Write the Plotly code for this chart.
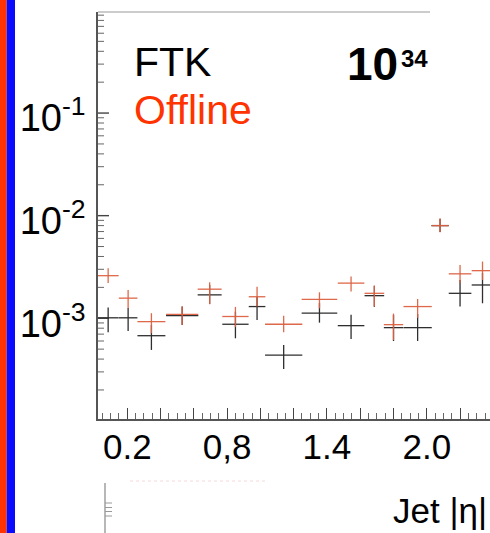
import plotly.graph_objects as go

# Jet |eta| bins: centre and half width
eta_center = [0.085, 0.205, 0.345, 0.53, 0.695, 0.85, 0.98, 1.14, 1.355, 1.545,
              1.685, 1.80, 1.945, 2.08, 2.20, 2.335]
eta_halfwidth = [0.063, 0.056, 0.084, 0.097, 0.072, 0.079, 0.050, 0.112, 0.107, 0.080,
                 0.059, 0.058, 0.085, 0.052, 0.068, 0.065]

# Offline: value with lower / upper error-bar ends
offline_val = [2.60e-3, 1.57e-3, 9.27e-4, 1.09e-3, 1.92e-3, 1.04e-3, 1.62e-3, 8.74e-4,
               1.53e-3, 2.20e-3, 1.75e-3, 8.66e-4, 1.30e-3, 8.0e-3, 2.71e-3, 2.91e-3]
offline_lo = [2.20e-3, 1.25e-3, 7.14e-4, 8.60e-4, 1.37e-3, 8.2e-4, 1.30e-3, 7.30e-4,
              1.25e-3, 1.82e-3, 1.30e-3, 6.14e-4, 1.01e-3, 6.90e-3, 2.21e-3, 2.36e-3]
offline_hi = [3.07e-3, 1.89e-3, 1.12e-3, 1.30e-3, 2.24e-3, 1.29e-3, 2.03e-3, 1.06e-3,
              1.79e-3, 2.55e-3, 2.08e-3, 1.11e-3, 1.54e-3, 9.45e-3, 3.31e-3, 3.57e-3]

# FTK: value with lower / upper error-bar ends
ftk_val = [1.01e-3, 1.01e-3, 6.76e-4, 1.06e-3, 1.69e-3, 8.74e-4, 1.30e-3, 4.38e-4,
           1.12e-3, 8.47e-4, 1.66e-3, 8.10e-4, 8.10e-4, 8.0e-3, 1.75e-3, 2.11e-3]
ftk_lo = [7.30e-4, 7.52e-4, 4.91e-4, 8.60e-4, 1.38e-3, 6.38e-4, 9.63e-4, 3.20e-4,
          9.06e-4, 6.28e-4, 1.29e-3, 6.00e-4, 6.00e-4, 6.93e-3, 1.30e-3, 1.40e-3]
ftk_hi = [1.27e-3, 1.26e-3, 8.60e-4, 1.30e-3, 2.11e-3, 1.16e-3, 1.61e-3, 5.49e-4,
          1.41e-3, 1.08e-3, 2.07e-3, 1.08e-3, 1.10e-3, 9.3e-3, 2.36e-3, 2.77e-3]

# axis ticks and labels
x_major = [0.2, 0.4, 0.6, 0.8, 1.0, 1.2, 1.4, 1.6, 1.8, 2.0, 2.2]
x_labelvals = [0.2, 0.8, 1.4, 2.0]
x_labeltext = ["0.2", "0,8", "1.4", "2.0"]
y_tickvals = [1e-3, 1e-2, 1e-1]
y_ticktext = ["10<sup>-3</sup>", "10<sup>-2</sup>", "10<sup>-1</sup>"]

X_RANGE = [0.024, 2.38]
Y_RANGE = [-3.982, -0.015]

W, H = 490, 533
L, R, T, B = 98, 0, 12, 114
PLOT_W = W - L - R
FONT = "Liberation Sans, Arial, sans-serif"


def px_x(p):
    return (p - L) / PLOT_W


def px_y(p):
    return (H - B - p) / (H - T - B)


def cross_trace(val, lo, hi, color, name, xa):
    return go.Scatter(
        x=eta_center, y=val, mode="markers", name=name, xaxis=xa, yaxis="y",
        marker=dict(size=2, color=color, opacity=0),
        error_x=dict(type="data", array=eta_halfwidth, width=0,
                     thickness=1.3, color=color),
        error_y=dict(type="data", array=[h - v for h, v in zip(hi, val)],
                     arrayminus=[v - l for v, l in zip(val, lo)],
                     width=0, thickness=1.3, color=color),
        showlegend=False, hoverinfo="skip",
    )


def y_tick_trace(vals, length_px, color, width):
    # short inward tick segments along the left edge of the log y axis
    x0 = X_RANGE[0]
    x1 = X_RANGE[0] + length_px / PLOT_W * (X_RANGE[1] - X_RANGE[0])
    xs, ys = [], []
    for v in vals:
        xs += [x0, x1, None]
        ys += [v, v, None]
    return go.Scatter(x=xs, y=ys, mode="lines", xaxis="x", yaxis="y",
                      line=dict(color=color, width=width), cliponaxis=False,
                      showlegend=False, hoverinfo="skip")


minor_x = [round(0.05 * i, 2) for i in range(0, 48)]
minor_y = [m * 10 ** e for e in range(-4, 0) for m in range(2, 10)]

fig = go.Figure()
fig.add_trace(y_tick_trace(minor_y, 6, "#666", 1))
fig.add_trace(y_tick_trace(y_tickvals, 11, "#444", 1.4))
fig.add_trace(cross_trace(ftk_val, ftk_lo, ftk_hi, "#2e2e2e", "FTK", "x"))
fig.add_trace(cross_trace(offline_val, offline_lo, offline_hi,
                          "rgba(220,96,64,0.95)", "Offline", "x2"))
# empty trace carrying the x tick-label axis
fig.add_trace(go.Scatter(x=[], y=[], xaxis="x3", yaxis="y", showlegend=False))

common = dict(showgrid=False, zeroline=False, automargin=False)

fig.update_layout(
    width=W, height=H,
    margin=dict(l=L, r=R, t=T, b=B),
    paper_bgcolor="white", plot_bgcolor="white",
    font=dict(family=FONT, color="black"),
    # base x axis: line + minor ticks
    xaxis=dict(
        range=X_RANGE, **common,
        showline=True, linecolor="#555", linewidth=1.5,
        tickmode="array", tickvals=minor_x, showticklabels=False,
        ticks="inside", ticklen=6, tickwidth=1, tickcolor="#666",
    ),
    # major x ticks every 0.2
    xaxis2=dict(
        range=X_RANGE, **common, overlaying="x", anchor="y", side="bottom",
        showline=False, showticklabels=False,
        tickmode="array", tickvals=x_major,
        ticks="inside", ticklen=11, tickwidth=1.4, tickcolor="#444",
    ),
    # x tick labels
    xaxis3=dict(
        range=X_RANGE, **common, overlaying="x", anchor="y", side="bottom",
        showline=False, ticks="", ticklabelstandoff=4,
        tickmode="array", tickvals=x_labelvals, ticktext=x_labeltext,
        tickfont=dict(size=35, family=FONT, color="black"),
    ),
    # log y axis: line and decade labels
    yaxis=dict(
        type="log", range=Y_RANGE, **common,
        showline=True, linecolor="#555", linewidth=1.5,
        tickmode="array", tickvals=y_tickvals, ticktext=y_ticktext,
        ticks="", ticklabelstandoff=3, ticklabelshift=5,
        tickfont=dict(size=38, family=FONT, color="black"),
    ),
)

shapes = [
    # frame line along the top
    dict(type="line", xref="paper", yref="paper", x0=0, x1=px_x(430), y0=1, y1=1,
         line=dict(color="#999", width=1.2)),
    # coloured strips at the left edge
    dict(type="rect", xref="paper", yref="paper", x0=px_x(0), x1=px_x(6.7),
         y0=px_y(H), y1=px_y(0), fillcolor="#FF3300", line=dict(width=0), layer="above"),
    dict(type="rect", xref="paper", yref="paper", x0=px_x(6.7), x1=px_x(15),
         y0=px_y(H), y1=px_y(0), fillcolor="#0A0AFF", line=dict(width=0), layer="above"),
    # piece of a second axis below the plot
    dict(type="line", xref="paper", yref="paper", x0=px_x(105), x1=px_x(105),
         y0=px_y(483), y1=px_y(H), line=dict(color="#888", width=1.2)),
    dict(type="line", xref="paper", yref="paper", x0=px_x(130), x1=px_x(265),
         y0=px_y(481), y1=px_y(481), line=dict(color="#f6dada", width=1, dash="dot")),
]
for ty in [503, 507.5, 511.5, 516]:
    shapes.append(dict(type="line", xref="paper", yref="paper", x0=px_x(105), x1=px_x(112),
                       y0=px_y(ty), y1=px_y(ty), line=dict(color="#999", width=1)))
fig.update_layout(shapes=shapes)

annotations = [
    dict(text="FTK", x=px_x(132), y=px_y(62), xanchor="left", yanchor="middle",
         font=dict(size=41, color="black", family=FONT)),
    dict(text="Offline", x=px_x(132), y=px_y(110), xanchor="left", yanchor="middle",
         font=dict(size=41, color="#FF3300", family=FONT)),
    dict(text="<b>10</b>", x=px_x(400), y=px_y(64), xanchor="right",
         yanchor="middle", font=dict(size=46, color="black", family=FONT)),
    dict(text="<b>34</b>", x=px_x(399), y=px_y(58), xanchor="left",
         yanchor="middle", font=dict(size=24, color="black", family=FONT)),
    dict(text="Jet |η|", x=px_x(489), y=px_y(510), xanchor="right", yanchor="middle",
         font=dict(size=35, color="black", family=FONT)),
]
for a in annotations:
    a.update(xref="paper", yref="paper", showarrow=False)
fig.update_layout(annotations=annotations)

fig.write_html("out.html")
